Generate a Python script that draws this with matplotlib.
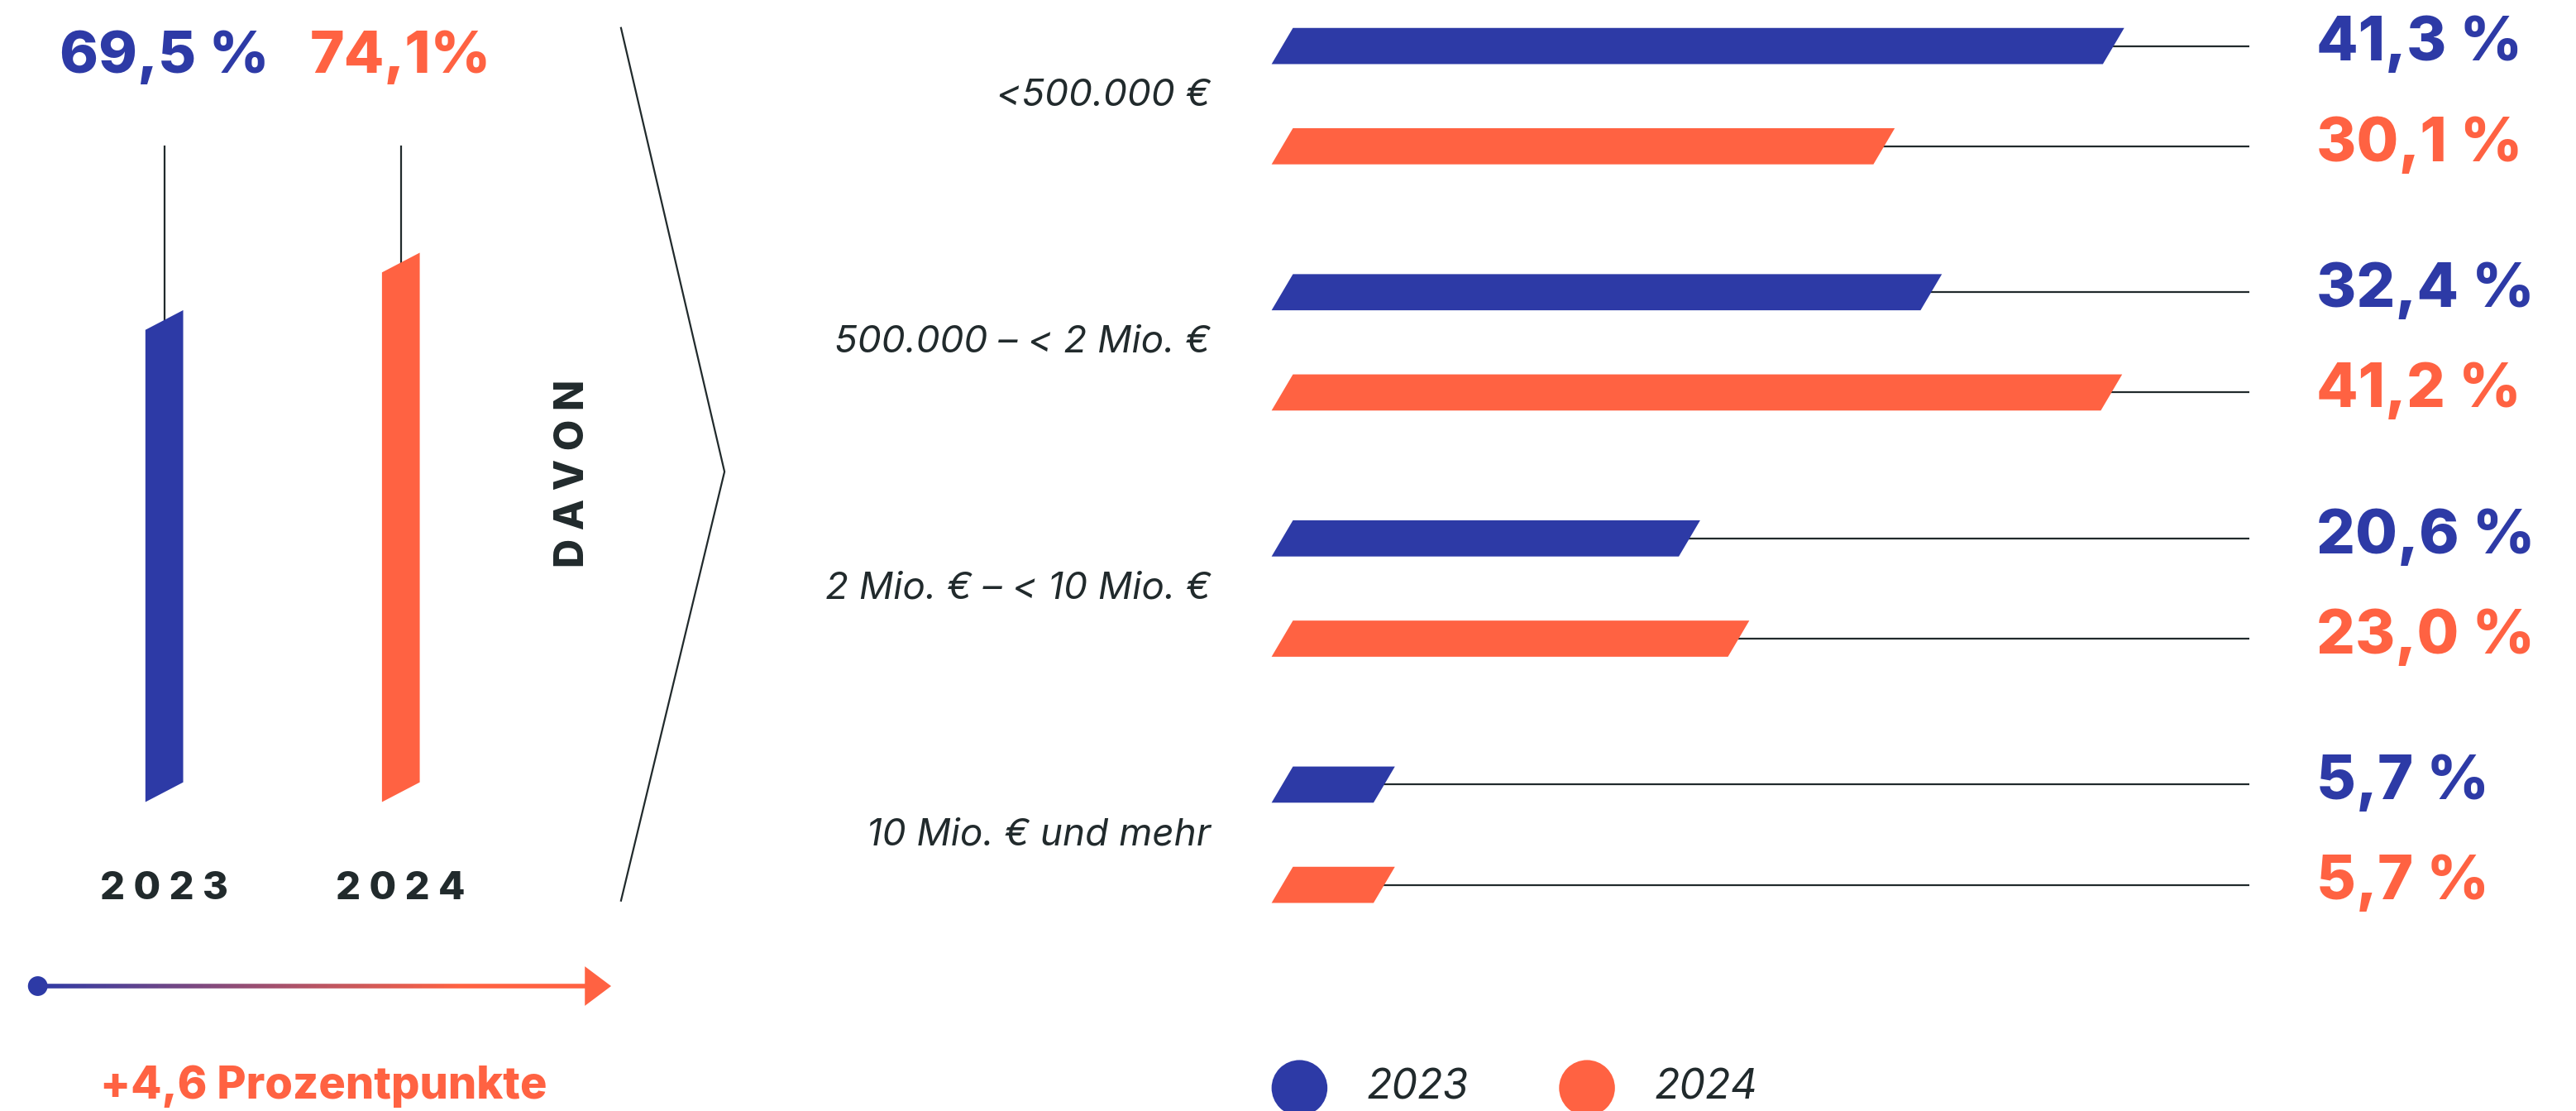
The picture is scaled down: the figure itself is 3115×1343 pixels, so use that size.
import matplotlib.pyplot as plt
import numpy as np
from matplotlib.patches import Polygon, Circle
from matplotlib.collections import LineCollection

plt.rcParams['font.family'] = ['Inter', 'DejaVu Sans']

BLUE = '#2d3aa6'
ORANGE = '#ff6242'
DARK = '#212a2c'

# left panel: share overall
years = ['2023', '2024']
totals = [69.5, 74.1]
total_labels = ['69,5 %', '74,1%']
change_label = '+4,6 Prozentpunkte'

# right panel: breakdown
categories = ['<500.000 €', '500.000 – < 2 Mio. €', '2 Mio. € – < 10 Mio. €', '10 Mio. € und mehr']
vals_2023 = [41.3, 32.4, 20.6, 5.7]
vals_2024 = [30.1, 41.2, 23.0, 5.7]

W, H = 1568, 676  # layout grid
fig = plt.figure(figsize=(31.15, 13.43), dpi=100)
HEAVY = 800

# overlay axes for decorations, in layout units
ov = fig.add_axes([0, 0, 1, 1])
ov.set_xlim(0, W)
ov.set_ylim(H, 0)
ov.axis('off')

# ---- left vertical bars ----
base = 31.7
vax = fig.add_axes([0, 0, 1, 1])
vax.set_xlim(0, W)
vax.set_ylim(base - (H - 488) / 7.6, base + 488 / 7.6)
vax.axis('off')
bw = 23
dv = 12 / 7.6
line_top = base + (488 - 89) / 7.6
for xc, v, c, lab, yr in zip([100, 244], totals, [BLUE, ORANGE], total_labels, years):
    vax.plot([xc, xc], [v + dv / 2, line_top], color=DARK, lw=1.6, zorder=1)
    poly = Polygon([(xc - bw / 2, base), (xc + bw / 2, base + dv),
                    (xc + bw / 2, v + dv), (xc - bw / 2, v)],
                   closed=True, facecolor=c, edgecolor='none', zorder=2)
    vax.add_patch(poly)
    ov.text(xc, 35, lab, color=c, fontsize=51, fontweight=HEAVY, ha='center', va='center')
    ov.text(xc, 541, ' '.join(yr), color=DARK, fontsize=34, fontweight=HEAVY, ha='center', va='center')

# gradient arrow
xs = np.linspace(22, 358, 200)
segs = [[(xs[i], 600), (xs[i + 1], 600)] for i in range(len(xs) - 1)]
t = np.linspace(0, 1, len(segs))
b = np.array([0x2d, 0x3a, 0xa6]) / 255
o = np.array([0xff, 0x62, 0x42]) / 255
cols = [(1 - k) * b + k * o for k in np.clip(t * 1.3, 0, 1)]
ov.add_collection(LineCollection(segs, colors=cols, linewidths=4))
ov.add_patch(Polygon([(356, 588), (372, 600), (356, 612)], closed=True, facecolor=ORANGE, edgecolor='none'))
ov.add_patch(Circle((23, 600), 6, facecolor=BLUE, edgecolor='none'))
ov.text(197, 661, change_label, color=ORANGE, fontsize=39, fontweight=HEAVY, ha='center', va='center')

# DAVON + chevron
ov.text(349, 288, ' '.join('DAVON'), color=DARK, fontsize=35, fontweight=HEAVY,
        rotation=90, ha='center', va='center')
ov.plot([378, 441, 378], [17, 287, 548], color=DARK, lw=1.6)

# ---- right horizontal bars ----
x_zero, x_right, ppu = 765, 1369, 12.47
hax = fig.add_axes([x_zero / W, 0, (x_right - x_zero) / W, 1])
xmax = (x_right - x_zero) / ppu
hax.set_xlim(0, xmax)
hax.set_ylim(H, 0)
hax.axis('off')
x0 = (774 - x_zero) / ppu  # bars start a little right of zero
s = 13 / ppu
bh = 22
step = 149.8
for i, cat in enumerate(categories):
    y1 = 28 + i * step
    y2 = y1 + 61
    for yc, v, c in [(y1, vals_2023[i], BLUE), (y2, vals_2024[i], ORANGE)]:
        hax.plot([v + s / 2, xmax], [yc, yc], color=DARK, lw=1.6, zorder=1)
        hax.add_patch(Polygon([(x0, yc + bh / 2), (v, yc + bh / 2),
                               (v + s, yc - bh / 2), (x0 + s, yc - bh / 2)],
                              closed=True, facecolor=c, edgecolor='none', zorder=2))
        ov.text(1410, yc - 1, f'{v:.1f}'.replace('.', ',') + ' %', color=c,
                fontsize=53, fontweight=HEAVY, ha='left', va='center')
    ov.text(737, (y1 + y2) / 2, cat, color=DARK, fontsize=33, style='italic',
            ha='right', va='center')

# legend
for xc, c, yr in [(791, BLUE, years[0]), (966, ORANGE, years[1])]:
    ov.add_patch(Circle((xc, 662), 17, facecolor=c, edgecolor='none'))
    ov.text(xc + 41, 662, yr, color=DARK, fontsize=36, style='italic', ha='left', va='center')

fig.savefig('out.png', dpi=100)
